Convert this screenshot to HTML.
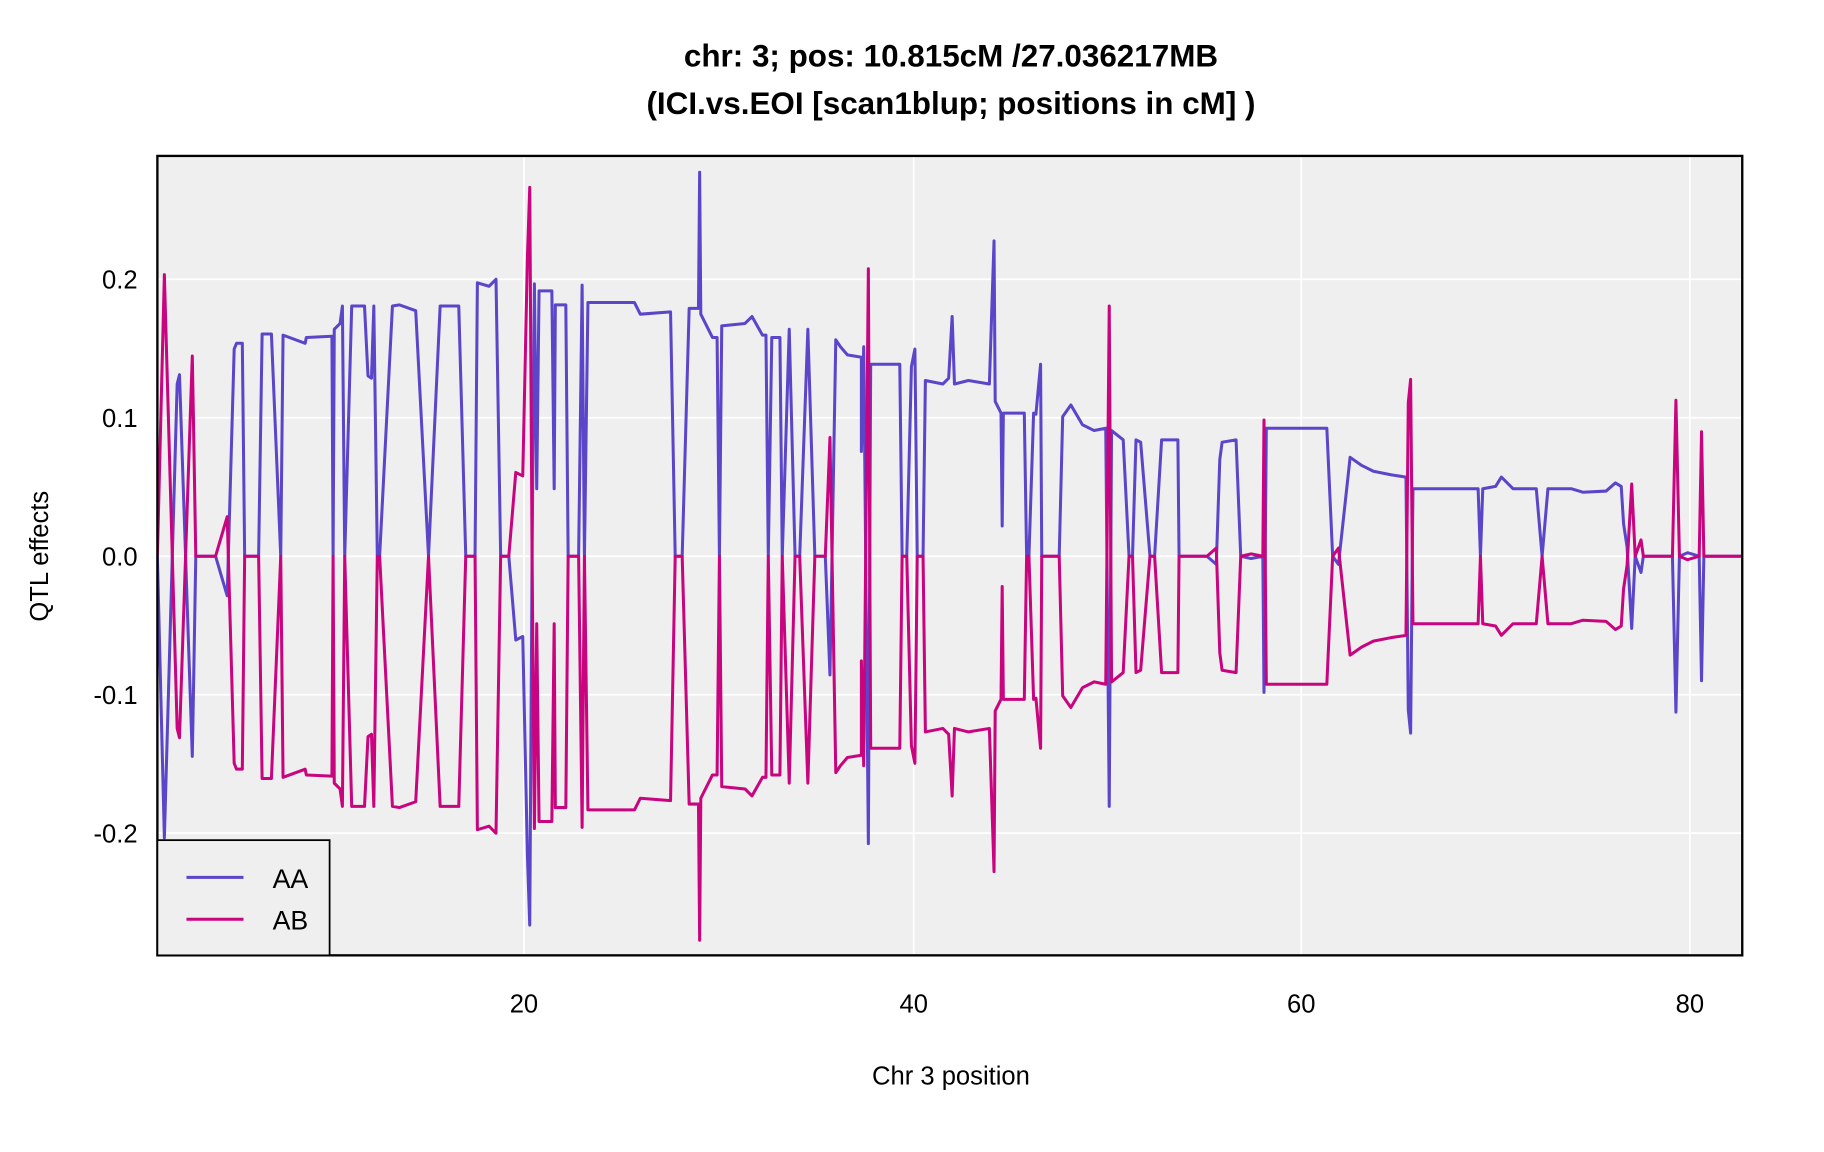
<!DOCTYPE html>
<html><head><meta charset="utf-8"><style>html,body{margin:0;padding:0;background:#fff}svg{display:block}</style></head>
<body>
<svg width="1824" height="1152" viewBox="0 0 1567 990" xmlns="http://www.w3.org/2000/svg" font-family="Liberation Sans, sans-serif">
<defs>
<clipPath id="c"><rect x="135" y="134" width="1362" height="687"/></clipPath>
<path id="aa" d="M135,478 L141,720 152,330 154,322 165,650 166,595 168,478 185,478 195,512 201,300 203,295 208,295 210,478 222,478 225,287 233,287 241,478 243,288 262,295 263,290 285,289 286,478 287,283 292,278 294,263 296,478 302,263 313,263 316,323 319,325 321,263 324,478 326,478 337,263 343,262 357,267 368,478 378,263 394,263 400,478 408,478 410,243 420,246 426,240 430,478 437,478 443,550 449,547 453,735 455,795 457,480 459,244 461,420 463,250 474,250 476,420 477,262 486,262 488,478 497,478 500,245 502,478 505,260 545,260 550,270 576,268 580,478 586,478 592,265 600,265 601,148 602,270 612,290 616,290 618,478 620,280 640,278 646,272 655,288 658,288 660,478 663,290 670,290 672,478 678,283 683,478 687,478 694,283 700,478 709,478 713,580 718,292 722,298 728,305 740,307 740,388 742,298 746,725 748,313 773,313 775,478 779,478 783,315 786,300 788,478 793,478 795,327 810,330 815,325 818,272 820,330 832,327 850,330 854,207 855,345 860,355 861,452 862,355 880,355 882,478 884,478 888,355 890,356 894,313 895,478 910,478 913,358 920,348 930,365 940,370 950,368 953,693 955,370 965,378 970,478 973,478 976,378 980,380 988,478 992,478 998,378 1012,378 1013,478 1037,478 1045,485 1048,395 1050,380 1062,378 1066,478 1075,480 1085,478 1086,595 1088,368 1140,368 1145,478 1150,485 1160,393 1170,400 1180,405 1195,408 1208,410 1210,610 1212,630 1214,420 1270,420 1272,478 1274,420 1285,418 1290,410 1300,420 1320,420 1325,478 1330,420 1350,420 1360,423 1380,422 1388,415 1393,418 1395,450 1398,470 1402,540 1405,478 1410,492 1412,478 1437,478 1440,612 1443,478 1450,475 1460,478 1462,585 1464,478 1497,478"/>
</defs>
<rect x="0" y="0" width="1567" height="990" fill="#fff"/>
<text x="817" y="57" text-anchor="middle" font-size="27" font-weight="bold">chr: 3; pos: 10.815cM /27.036217MB</text>
<text x="817" y="98" text-anchor="middle" font-size="27" font-weight="bold">(ICI.vs.EOI [scan1blup; positions in cM] )</text>
<rect x="135" y="134" width="1362" height="687" fill="#efefef"/>
<g stroke="#fff" stroke-width="1.5">
<line x1="135" y1="240" x2="1497" y2="240"/><line x1="135" y1="359" x2="1497" y2="359"/><line x1="135" y1="478" x2="1497" y2="478"/><line x1="135" y1="597" x2="1497" y2="597"/><line x1="135" y1="716" x2="1497" y2="716"/>
<line x1="450" y1="134" x2="450" y2="821"/><line x1="785" y1="134" x2="785" y2="821"/><line x1="1118" y1="134" x2="1118" y2="821"/><line x1="1452" y1="134" x2="1452" y2="821"/>
</g>
<g clip-path="url(#c)" fill="none" stroke-width="2.6" stroke-linejoin="round">
<g stroke="#5b45c9"><use href="#aa"/></g>
<g stroke="#c8057f"><use href="#aa" transform="translate(0,956) scale(1,-1)"/></g>
</g>
<rect x="135" y="134" width="1362" height="687" fill="none" stroke="#000" stroke-width="2"/>
<rect x="135" y="722" width="148" height="99" fill="#efefef" stroke="#000" stroke-width="1.5"/>
<line x1="160" y1="754" x2="209" y2="754" stroke="#5b45c9" stroke-width="2.6"/>
<line x1="160" y1="790" x2="209" y2="790" stroke="#c8057f" stroke-width="2.6"/>
<text x="234" y="763" font-size="23">AA</text>
<text x="234" y="799" font-size="23">AB</text>
<g font-size="22" text-anchor="end">
<text x="118" y="248">0.2</text><text x="118" y="367">0.1</text><text x="118" y="486">0.0</text><text x="118" y="605">-0.1</text><text x="118" y="724">-0.2</text>
</g>
<g font-size="22" text-anchor="middle">
<text x="450" y="870">20</text><text x="785" y="870">40</text><text x="1118" y="870">60</text><text x="1452" y="870">80</text>
<text x="817" y="932">Chr 3 position</text>
</g>
<text x="0" y="0" font-size="22" text-anchor="middle" transform="translate(41,478) rotate(-90)">QTL effects</text>
</svg>
</body></html>
